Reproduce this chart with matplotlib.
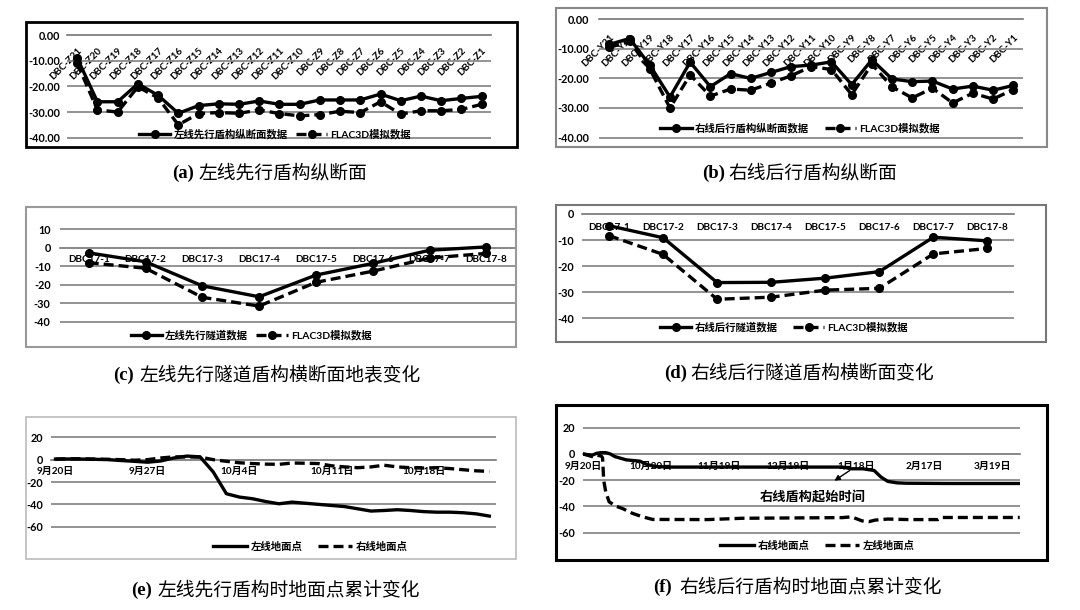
import matplotlib
matplotlib.use('Agg')
import matplotlib.pyplot as plt
from matplotlib.patches import Rectangle

plt.rcParams['font.family'] = ['Lato', 'Noto Sans CJK SC', 'DejaVu Sans']
plt.rcParams['axes.unicode_minus'] = False

# ---- data ----
# (a) left line, longitudinal section
a_labels = ['DBC-Z21', 'DBC-Z20', 'DBC-Z19', 'DBC-Z18', 'DBC-Z17', 'DBC-Z16', 'DBC-Z15',
            'DBC-Z14', 'DBC-Z13', 'DBC-Z12', 'DBC-Z11', 'DBC-Z10', 'DBC-Z9', 'DBC-Z8',
            'DBC-Z7', 'DBC-Z6', 'DBC-Z5', 'DBC-Z4', 'DBC-Z3', 'DBC-Z2', 'DBC-Z1']
a_measured = [-9, -26, -26, -19, -23.5, -30.5, -27.5, -26.8, -27, -25.7, -27, -27,
              -25.3, -25.3, -25.3, -23, -25.6, -23.8, -25.6, -24.7, -23.9]
a_flac = [-11, -29.2, -30, -20.2, -24.5, -35, -30.6, -30.2, -30.5, -29.2, -30.6, -31.5,
          -31, -29.7, -30.2, -26, -30.8, -29.5, -29.5, -29, -27]

# (b) right line, longitudinal section
b_labels = ['DBC-Y21', 'DBC-Y20', 'DBC-Y19', 'DBC-Y18', 'DBC-Y17', 'DBC-Y16', 'DBC-Y15',
            'DBC-Y14', 'DBC-Y13', 'DBC-Y12', 'DBC-Y11', 'DBC-Y10', 'DBC-Y9', 'DBC-Y8',
            'DBC-Y7', 'DBC-Y6', 'DBC-Y5', 'DBC-Y4', 'DBC-Y3', 'DBC-Y2', 'DBC-Y1']
b_measured = [-8.5, -6.5, -15.5, -26.3, -14.5, -22.8, -18.4, -20, -18, -16, -15.5, -14.4,
              -22.1, -13.7, -20.2, -21.1, -20.9, -23.6, -22.6, -24, -22.4]
b_flac = [-9.5, -7.5, -16.8, -30, -18.8, -26, -23.6, -24, -21.6, -19.1, -16, -17,
          -25.5, -15.2, -22.9, -26.6, -23.3, -28.3, -25, -27, -23.8]

# (c) / (d) cross sections
cd_labels = ['DBC17-1', 'DBC17-2', 'DBC17-3', 'DBC17-4', 'DBC17-5', 'DBC17-6', 'DBC17-7', 'DBC17-8']
c_measured = [-2.7, -7.5, -20.5, -26.4, -14.7, -8.4, -1.3, 0.5]
c_flac = [-8, -11, -26.7, -31.4, -18.6, -12.6, -5.5, -3]
d_measured = [-4.5, -9.1, -26.3, -26.2, -24.6, -22.1, -8.9, -10.3]
d_flac = [-8.3, -15.5, -32.7, -31.9, -29.2, -28.5, -15.3, -13.2]

# (e) days after 9/20
e_days = list(range(34))
e_left = [0.5, 0.6, 0.5, 0.3, 0, -0.8, -1.5, -2.3, -1.2, 1.5, 3.2, 2.5, -11, -30.5,
          -33.5, -35, -37.5, -39.5, -38, -39, -40, -41, -42, -44, -46, -45.5, -44.8,
          -45.5, -46.5, -47, -47, -47.5, -48.5, -50.5]
e_right = [0.5, 0.8, 0.8, 0.5, 0.3, 0, -0.5, 0, 1.5, 2.5, 2.4, 2.3, 0, -1.5, -2.8,
           -3.5, -4, -4.2, -3, -3.2, -3.5, -5.5, -6.5, -7.2, -6.5, -5, -6.5, -7.2,
           -7.5, -7.2, -8, -9, -10, -10.5]
e_tick_days = [0, 7, 14, 21, 28]
e_tick_labels = ['9月20日', '9月27日', '10月4日', '10月11日', '10月18日']

# (f) days after 9/20
f_right_days = [0, 2, 4, 6, 8, 10, 12, 14, 17, 19, 22, 25, 28, 32, 38, 60, 90, 114,
                118, 123, 128, 131, 134, 138, 142, 160, 192]
f_right = [0, -0.5, -1, 0.5, 1, 1, 0, -2, -3.5, -4.5, -5, -5.5, -8, -9.6, -10, -10,
           -10, -10, -11.3, -11.3, -12.6, -17.6, -20.9, -22, -22.3, -22.5, -22.5]
f_left_days = [0, 2, 4, 6, 8, 8.6, 9.1, 10, 11.5, 14.5, 17.4, 21.8, 26.2, 30.6, 55,
               70, 114, 118, 122.7, 125.6, 128.5, 134, 143, 156, 157.5, 192]
f_left = [0, -1, -2, -1, -1.5, -3, -20, -29, -36.5, -39.8, -41.6, -45.3, -47.9, -49.9,
          -50, -49, -48.5, -47.9, -51, -51.6, -50.4, -49.6, -50, -50, -48.4, -48.4]
f_tick_days = [0, 30, 60, 90, 120, 150, 180]
f_tick_labels = ['9月20日', '10月20日', '11月19日', '12月19日', '1月18日', '2月17日', '3月19日']

# ---- figure ----
W, H = 1080, 610
fig = plt.figure(figsize=(W / 100, H / 100), dpi=100)
GRID = '#8a8a8a'
LW = 2.4
DASH = (3.0, 1.5)


def box(x0, y0, x1, y1, color, lw):
    fig.add_artist(Rectangle((x0 / W, 1 - y1 / H), (x1 - x0) / W, (y1 - y0) / H,
                             transform=fig.transFigure, fill=False, ec=color, lw=lw))


def panel(x0, x1, y_top, y_bot, yticks, xlim, fmt, ypad):
    # x0..x1, y_top..y_bot are pixel positions of the outer gridlines
    m = 5
    k = (y_bot - y_top) / (yticks[0] - yticks[-1])
    ax = fig.add_axes([x0 / W, 1 - (y_bot + m) / H, (x1 - x0) / W, (y_bot - y_top + 2 * m) / H])
    ax.set_ylim(yticks[-1] - m / k, yticks[0] + m / k)
    ax.set_xlim(*xlim)
    for s in ['top', 'right', 'left']:
        ax.spines[s].set_visible(False)
    ax.spines['bottom'].set_position(('data', 0))
    ax.spines['bottom'].set_color(GRID)
    ax.spines['bottom'].set_linewidth(1.3)
    ax.set_yticks(yticks, [fmt.format(v) for v in yticks], fontsize=7.8, fontweight='bold')
    ax.yaxis.grid(True, color=GRID, lw=1.3)
    ax.tick_params(axis='y', length=0, pad=ypad)
    ax.tick_params(axis='x', length=0)
    ax.set_axisbelow(True)
    ax.patch.set_visible(False)
    return ax


def legend(ax, handles, labels, cx, cy, hl=3.0, cs=1.0):
    ax.legend(handles, labels, loc='center', bbox_to_anchor=(cx / W, 1 - cy / H),
              bbox_transform=fig.transFigure, ncol=2, frameon=False,
              prop=dict(weight='bold', size=7.5), handlelength=hl, handletextpad=0.3,
              columnspacing=cs, borderaxespad=0)


def caption(x_start, cy, tag, text):
    fig.text(x_start / W, 1 - cy / H, tag, ha='left', va='center', fontsize=13.5,
             fontweight='bold', family='Liberation Serif')
    fig.text((x_start + 26) / W, 1 - cy / H, text, ha='left', va='center', fontsize=13.5,
             family='Noto Sans CJK SC')


def section(ax, labels, measured, flac):
    x = range(len(labels))
    l1, = ax.plot(x, measured, color='black', lw=LW, marker='o', ms=5.5, zorder=3)
    l2, = ax.plot(x, flac, color='black', lw=LW, ls=(0, DASH), marker='o', ms=5.5, zorder=3)
    return l1, l2


# (a)
box(25.8, 22.3, 516.5, 146.7, 'black', 2)
ax = panel(67.1, 490.7, 35, 137.7, [0, -10, -20, -30, -40], (-0.5, 20.45), '{:.2f}', 5)
h = section(ax, a_labels, a_measured, a_flac)
ax.set_xticks(range(21), a_labels, rotation=45, ha='right', va='top',
              rotation_mode='anchor', fontsize=7, fontweight='bold')
ax.tick_params(axis='x', pad=8)
legend(ax, h, ['左线先行盾构纵断面数据', 'FLAC3D模拟数据'], 275, 134, cs=0.8)
caption(172, 173, '(a)', '左线先行盾构纵断面')

# (b)
box(556.5, 8.3, 1046.7, 146.7, '#888888', 1.5)
ax = panel(598.5, 1023.3, 19.3, 137.5, [0, -10, -20, -30, -40], (-0.54, 20.5), '{:.2f}', 7)
h = section(ax, b_labels, b_measured, b_flac)
ax.set_xticks(range(21), b_labels, rotation=45, ha='right', va='top',
              rotation_mode='anchor', fontsize=7, fontweight='bold')
ax.tick_params(axis='x', pad=9.5)
legend(ax, h, ['右线后行盾构纵断面数据', 'FLAC3D模拟数据'], 800, 128, cs=1.5)
caption(702, 173, '(b)', '右线后行盾构纵断面')

# (c)
box(25.8, 206.7, 515.5, 346.7, '#999999', 1.5)
ax = panel(60.3, 514.8, 229.3, 322, [10, 0, -10, -20, -30, -40], (-0.5, 7.5), '{:d}', 7)
h = section(ax, cd_labels, c_measured, c_flac)
ax.set_xticks(range(8), cd_labels, fontsize=7.2, fontweight='bold')
ax.tick_params(axis='x', pad=5)
legend(ax, h, ['左线先行隧道数据', 'FLAC3D模拟数据'], 251, 335, cs=0.8)
caption(113.6, 375, '(c)', '左线先行隧道盾构横断面地表变化')

# (d)
box(556.5, 205, 1046.2, 341.7, '#777777', 1.5)
ax = panel(582, 1014.5, 214, 318.3, [0, -10, -20, -30, -40], (-0.5, 7.5), '{:d}', 5.5)
h = section(ax, cd_labels, d_measured, d_flac)
ax.set_xticks(range(8), cd_labels, fontsize=7.2, fontweight='bold')
ax.tick_params(axis='x', pad=6.5)
legend(ax, h, ['右线后行隧道数据', 'FLAC3D模拟数据'], 784, 327, cs=1.5)
caption(664, 373, '(d)', '右线后行隧道盾构横断面变化')

# (e)
box(25.8, 417, 515.5, 559, '#bbbbbb', 1.2)
ax = panel(51, 495.9, 437.3, 526.7, [20, 0, -20, -40, -60], (-0.34, 33.5), '{:d}', 6)
l1, = ax.plot(e_days, e_left, color='black', lw=LW, zorder=3)
l2, = ax.plot(e_days, e_right, color='black', lw=LW, ls=(0, DASH), zorder=3)
ax.set_xticks(e_tick_days, e_tick_labels, fontsize=7.2, fontweight='bold')
ax.tick_params(axis='x', pad=5)
legend(ax, [l1, l2], ['左线地面点', '右线地面点'], 310, 547, hl=3.3, cs=1.5)
caption(131, 590, '(e)', '左线先行盾构时地面点累计变化')

# (f)
box(556.5, 405, 1047, 560, 'black', 2.2)
ax = panel(583, 1020.4, 427.7, 532.7, [20, 0, -20, -40, -60], (0, 192.3), '{:d}', 6)
l1, = ax.plot(f_right_days, f_right, color='black', lw=LW, zorder=3)
l2, = ax.plot(f_left_days, f_left, color='black', lw=LW, ls=(0, DASH), zorder=3)
ax.set_xticks(f_tick_days, f_tick_labels, fontsize=7.2, fontweight='bold')
ax.tick_params(axis='x', pad=6)
ax.annotate('', xy=(109.5, -21.6), xytext=(118.3, -11.4),
            arrowprops=dict(arrowstyle='-|>', color='black', lw=1, mutation_scale=8))
ax.text(101, -33, '右线盾构起始时间', ha='center', va='center', fontsize=9.5, fontweight='bold')
legend(ax, [l1, l2], ['右线地面点', '左线地面点'], 817, 546, hl=3.3, cs=1.5)
caption(653.6, 587, '(f)', '右线后行盾构时地面点累计变化')

fig.savefig('out.png', dpi=100)
